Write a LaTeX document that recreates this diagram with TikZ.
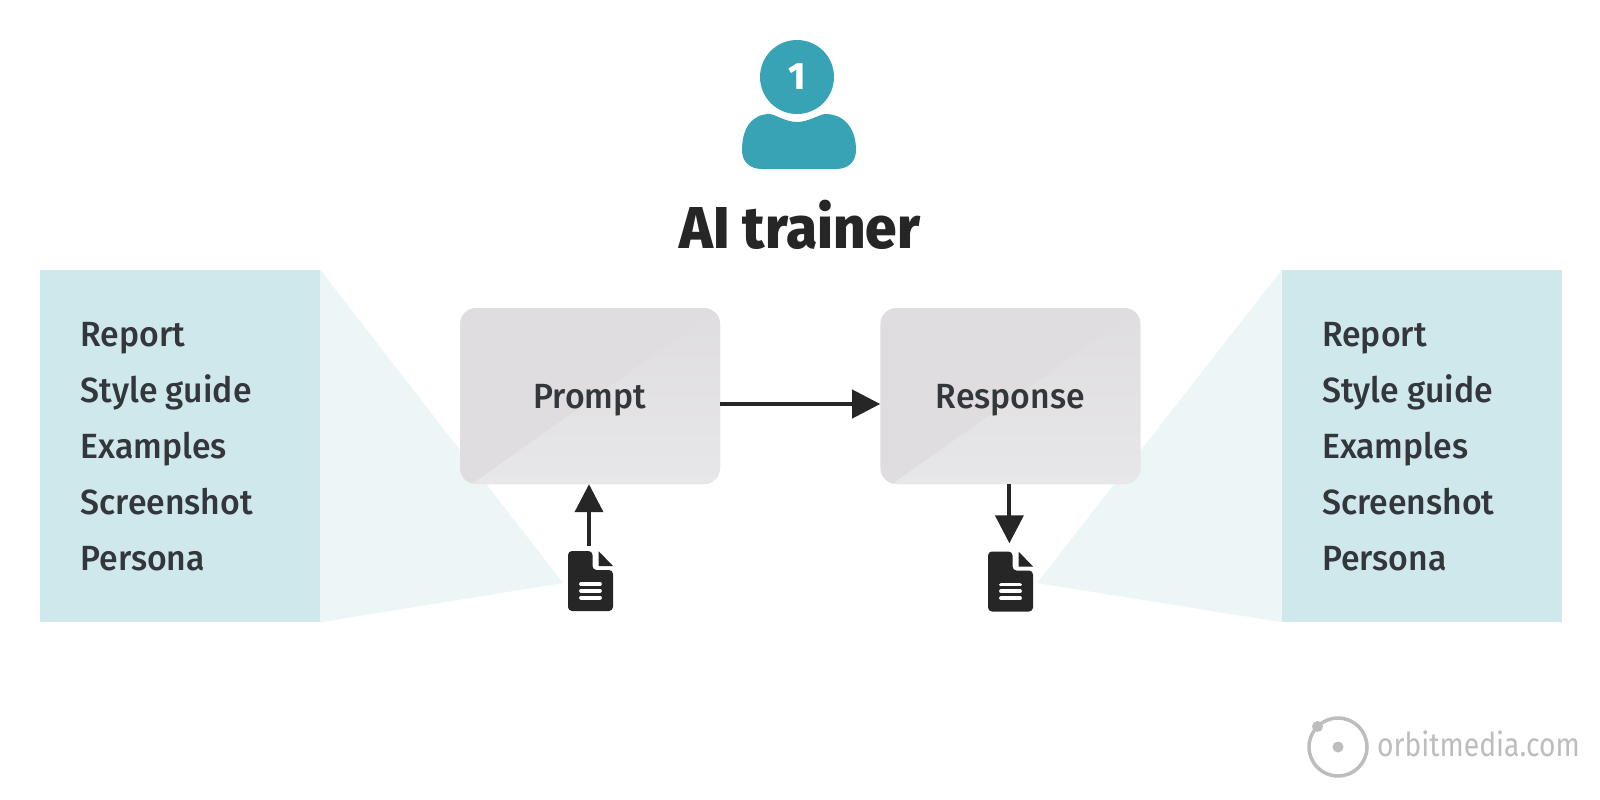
\documentclass[tikz,border=0pt]{standalone}
\usepackage{xcolor}
\usepackage{fontspec}
\usepackage{tikz}
\usetikzlibrary{arrows.meta, positioning}
\setmainfont{Fira Sans}
\newfontfamily\labelfont[FakeStretch=0.965]{Fira Sans Medium}
\newfontfamily\titlefont[FakeStretch=0.96]{Fira Sans ExtraBold}
\newfontfamily\logofont[FakeStretch=0.857]{Fira Sans}
\definecolor{teal}{HTML}{38A3B5}
\definecolor{ink}{HTML}{262626}
\definecolor{labeltext}{HTML}{33363B}
\definecolor{panel}{HTML}{CFE8EC}
\definecolor{beam}{HTML}{EDF6F7}
\definecolor{boxdark}{HTML}{DFDDE0}
\definecolor{boxlight}{HTML}{E7E6E8}
\definecolor{logogray}{HTML}{BDBDBD}

\begin{document}
\begin{tikzpicture}[x=1pt, y=-1pt]
    \tikzstyle{panelbox} = [rectangle, fill=panel, minimum width=280pt, minimum height=352pt, inner sep=0pt]
    \tikzstyle{listtext} = [align=left, anchor=north west, inner sep=0pt, text=labeltext, font=\labelfont\fontsize{35}{56}\selectfont]
    \tikzstyle{flowbox} = [rectangle, fill=boxdark, minimum width=260pt, minimum height=176pt, rounded corners=16pt, inner sep=0pt, text=labeltext, text height=25pt, text depth=0pt, font=\labelfont\fontsize{35}{42}\selectfont,
        path picture={\shade[bottom color=boxlight, top color=boxdark, sharp corners] ([xshift=12pt]path picture bounding box.south west) -- (path picture bounding box.north east) -- (path picture bounding box.south east) -- cycle;}]
    \tikzstyle{docbox} = [rectangle, minimum width=45pt, minimum height=60pt, inner sep=0pt]
    \tikzstyle{flow} = [-{Triangle[length=28pt, width=28pt]}, line width=4pt, ink]
    \tikzset{
        docicon/.pic={
            \fill[ink, rounded corners=4pt] (-22.5,-30) -- (2,-30) -- (2,-11) -- (22.5,-11) -- (22.5,30) -- (-22.5,30) -- cycle;
            \fill[ink] (8,-30) -- (22.5,-15) -- (8,-15) -- cycle;
            \foreach \y in {3,9.7,16.7}
                \draw[white, line width=3.8pt, line cap=round] (-9.5,\y) -- (9.5,\y);
        }
    }

    \path[use as bounding box, fill=white] (0,0) rectangle (1600,800);

    % side panels
    \node (leftpanel) [panelbox] at (180,446) {};
    \node (rightpanel) [panelbox] at (1422,446) {};
    \coordinate (leftapex) at (563,583);
    \coordinate (rightapex) at (1037,583);
    \fill[beam] (leftpanel.north east) -- (leftapex) -- (leftpanel.south east) -- cycle;
    \fill[beam] (rightpanel.north west) -- (rightapex) -- (rightpanel.south west) -- cycle;
    \node (leftlist) [listtext] at (80.5,322) {Report\\Style guide\\Examples\\Screenshot\\Persona};
    \node (rightlist) [listtext] at (1322,322) {Report\\Style guide\\Examples\\Screenshot\\Persona};

    % trainer
    \node (head) [circle, fill=teal, minimum size=74pt, inner sep=0pt, text=white, font=\titlefont\fontsize{38}{38}\selectfont] at (797,77) {1};
    \fill[teal] (770,114) .. controls (776,115) and (786,122) .. (797,122) .. controls (808,122) and (818,115) .. (825,114) .. controls (844,114) and (856,128) .. (856,150) .. controls (856,162) and (848,169) .. (836,169) -- (762,169) .. controls (750,169) and (742,162) .. (742,150) .. controls (742,128) and (752,114) .. (770,114) -- cycle;
    \node (title) [anchor=base, inner sep=0pt, text=ink, font=\titlefont\fontsize{59}{60}\selectfont] at (800,248) {AI trainer};

    % flow
    \node (prompt) [flowbox] at (590,396) {Prompt};
    \node (response) [flowbox, right=160pt of prompt] {Response};
    \node (docin) [docbox] at (590.5,581) {};
    \node (docout) [docbox] at (1010.5,581.5) {};
    \pic at (docin) {docicon};
    \pic at (docout) {docicon};

    \draw [flow] (prompt.east |- 0,404) -- (response.west |- 0,404);
    \draw [flow, shorten <=5pt, transform canvas={xshift=-1pt}] (docin.north -| prompt.south) -- (prompt.south);
    \draw [flow, shorten >=8pt, transform canvas={xshift=-1pt}] (response.south) -- (docout.north -| response.south);

    % logo
    \node (orbit) [circle, draw=logogray, line width=3.5pt, minimum size=58pt, inner sep=0pt, outer sep=0pt] at (1338,747) {};
    \fill[logogray] (orbit.center) circle (5.5);
    \fill[logogray] (orbit.135) circle (5.5);
    \node (logotext) [anchor=base west, inner sep=0pt, text=logogray, font=\logofont\fontsize{33}{33}\selectfont] at (1377,756) {orbitmedia.com};
\end{tikzpicture}
\end{document}
